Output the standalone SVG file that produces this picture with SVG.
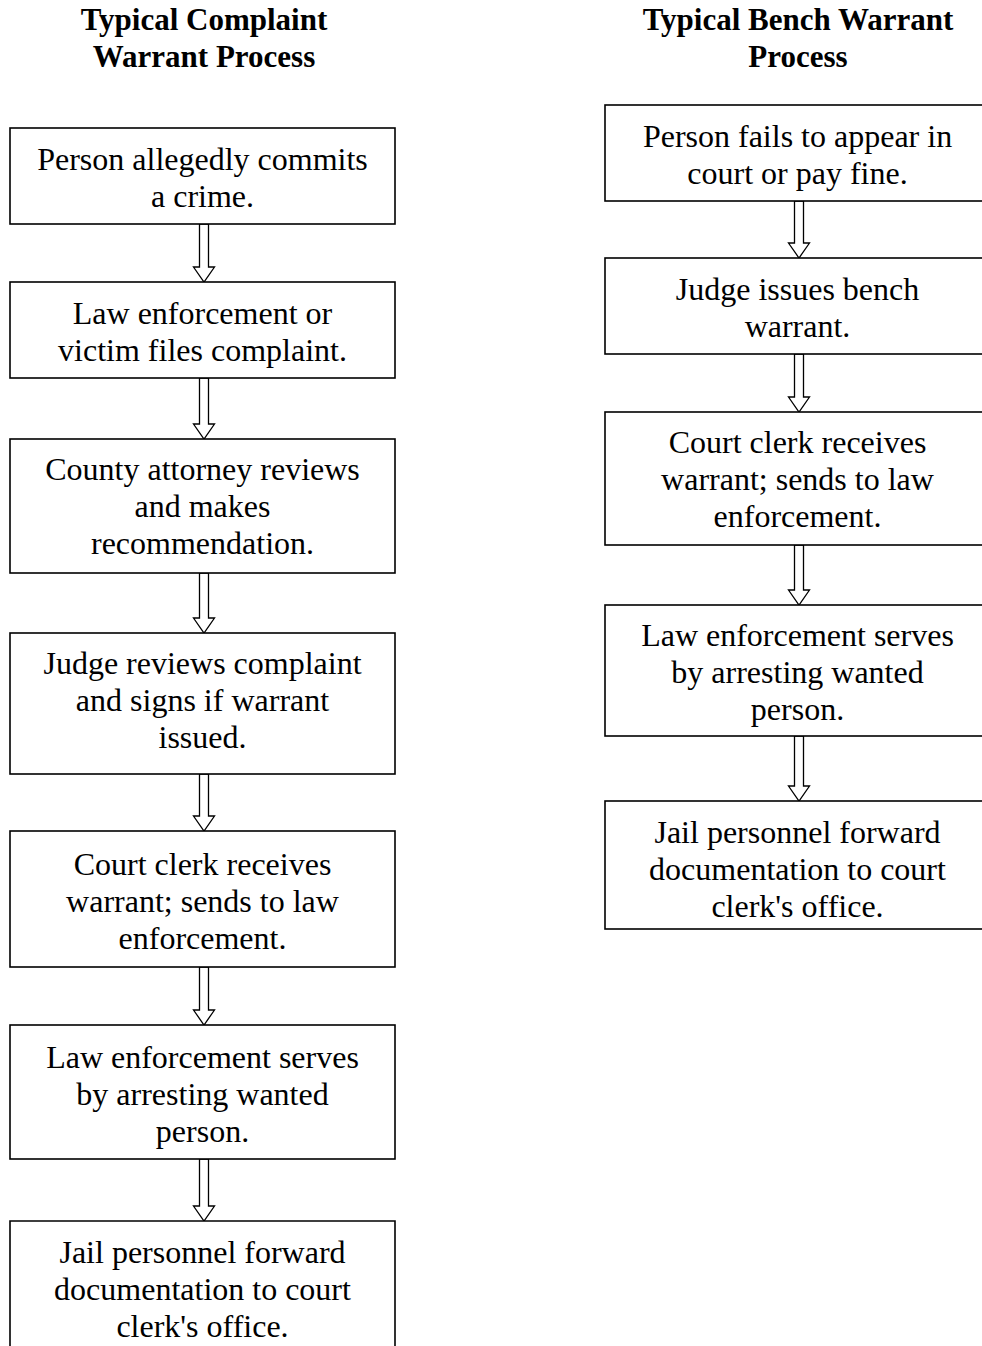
<svg xmlns="http://www.w3.org/2000/svg" width="982" height="1346" viewBox="0 0 982 1346">
<style>
.title{font-family:"Liberation Serif","Times New Roman",serif;font-weight:bold;font-size:31px;fill:#000;text-anchor:middle}
.t{font-family:"Liberation Serif","Times New Roman",serif;font-size:32px;fill:#000;text-anchor:middle}
.box{fill:#fff;stroke:#000;stroke-width:1.6}
.arr{fill:#fff;stroke:#000;stroke-width:1.3;stroke-linejoin:miter}
</style>
<rect width="982" height="1346" fill="#fff"/>
<g id="titles">
<text class="title" x="204" y="30">Typical Complaint</text>
<text class="title" x="204" y="67">Warrant Process</text>
<text class="title" x="798" y="30">Typical Bench Warrant</text>
<text class="title" x="798" y="67">Process</text>
</g>
<g id="connectors">
<path class="arr" d="M199.5,224 V267 H193.5 L204,282 L214.5,267 H208.5 V224 Z"/>
<path class="arr" d="M199.5,378 V424 H193.5 L204,439 L214.5,424 H208.5 V378 Z"/>
<path class="arr" d="M199.5,573 V618 H193.5 L204,633 L214.5,618 H208.5 V573 Z"/>
<path class="arr" d="M199.5,774 V816 H193.5 L204,831 L214.5,816 H208.5 V774 Z"/>
<path class="arr" d="M199.5,967 V1010 H193.5 L204,1025 L214.5,1010 H208.5 V967 Z"/>
<path class="arr" d="M199.5,1159 V1206 H193.5 L204,1221 L214.5,1206 H208.5 V1159 Z"/>
<path class="arr" d="M794.5,201 V243 H788.5 L799,258 L809.5,243 H803.5 V201 Z"/>
<path class="arr" d="M794.5,354 V397 H788.5 L799,412 L809.5,397 H803.5 V354 Z"/>
<path class="arr" d="M794.5,545 V590 H788.5 L799,605 L809.5,590 H803.5 V545 Z"/>
<path class="arr" d="M794.5,736 V786 H788.5 L799,801 L809.5,786 H803.5 V736 Z"/>
</g>
<g id="L1"><rect class="box" x="10" y="128" width="385" height="96"/>
<text class="t" x="202.5" y="170">Person allegedly commits</text>
<text class="t" x="202.5" y="207">a crime.</text></g>
<g id="L2"><rect class="box" x="10" y="282" width="385" height="96"/>
<text class="t" x="202.5" y="324">Law enforcement or</text>
<text class="t" x="202.5" y="361">victim files complaint.</text></g>
<g id="L3"><rect class="box" x="10" y="439" width="385" height="134"/>
<text class="t" x="202.5" y="480">County attorney reviews</text>
<text class="t" x="202.5" y="517">and makes</text>
<text class="t" x="202.5" y="554">recommendation.</text></g>
<g id="L4"><rect class="box" x="10" y="633" width="385" height="141"/>
<text class="t" x="202.5" y="674">Judge reviews complaint</text>
<text class="t" x="202.5" y="711">and signs if warrant</text>
<text class="t" x="202.5" y="748">issued.</text></g>
<g id="L5"><rect class="box" x="10" y="831" width="385" height="136"/>
<text class="t" x="202.5" y="875">Court clerk receives</text>
<text class="t" x="202.5" y="912">warrant; sends to law</text>
<text class="t" x="202.5" y="949">enforcement.</text></g>
<g id="L6"><rect class="box" x="10" y="1025" width="385" height="134"/>
<text class="t" x="202.5" y="1068">Law enforcement serves</text>
<text class="t" x="202.5" y="1105">by arresting wanted</text>
<text class="t" x="202.5" y="1142">person.</text></g>
<g id="L7"><path class="box" d="M10,1346 V1221 H395 V1346"/>
<text class="t" x="202.5" y="1263">Jail personnel forward</text>
<text class="t" x="202.5" y="1300">documentation to court</text>
<text class="t" x="202.5" y="1337">clerk's office.</text></g>
<g id="R1"><rect class="box" x="605" y="105" width="390" height="96"/>
<text class="t" x="797.5" y="147">Person fails to appear in</text>
<text class="t" x="797.5" y="184">court or pay fine.</text></g>
<g id="R2"><rect class="box" x="605" y="258" width="390" height="96"/>
<text class="t" x="797.5" y="300">Judge issues bench</text>
<text class="t" x="797.5" y="337">warrant.</text></g>
<g id="R3"><rect class="box" x="605" y="412" width="390" height="133"/>
<text class="t" x="797.5" y="453">Court clerk receives</text>
<text class="t" x="797.5" y="490">warrant; sends to law</text>
<text class="t" x="797.5" y="527">enforcement.</text></g>
<g id="R4"><rect class="box" x="605" y="605" width="390" height="131"/>
<text class="t" x="797.5" y="646">Law enforcement serves</text>
<text class="t" x="797.5" y="683">by arresting wanted</text>
<text class="t" x="797.5" y="720">person.</text></g>
<g id="R5"><rect class="box" x="605" y="801" width="390" height="128"/>
<text class="t" x="797.5" y="843">Jail personnel forward</text>
<text class="t" x="797.5" y="880">documentation to court</text>
<text class="t" x="797.5" y="917">clerk's office.</text></g>
</svg>
